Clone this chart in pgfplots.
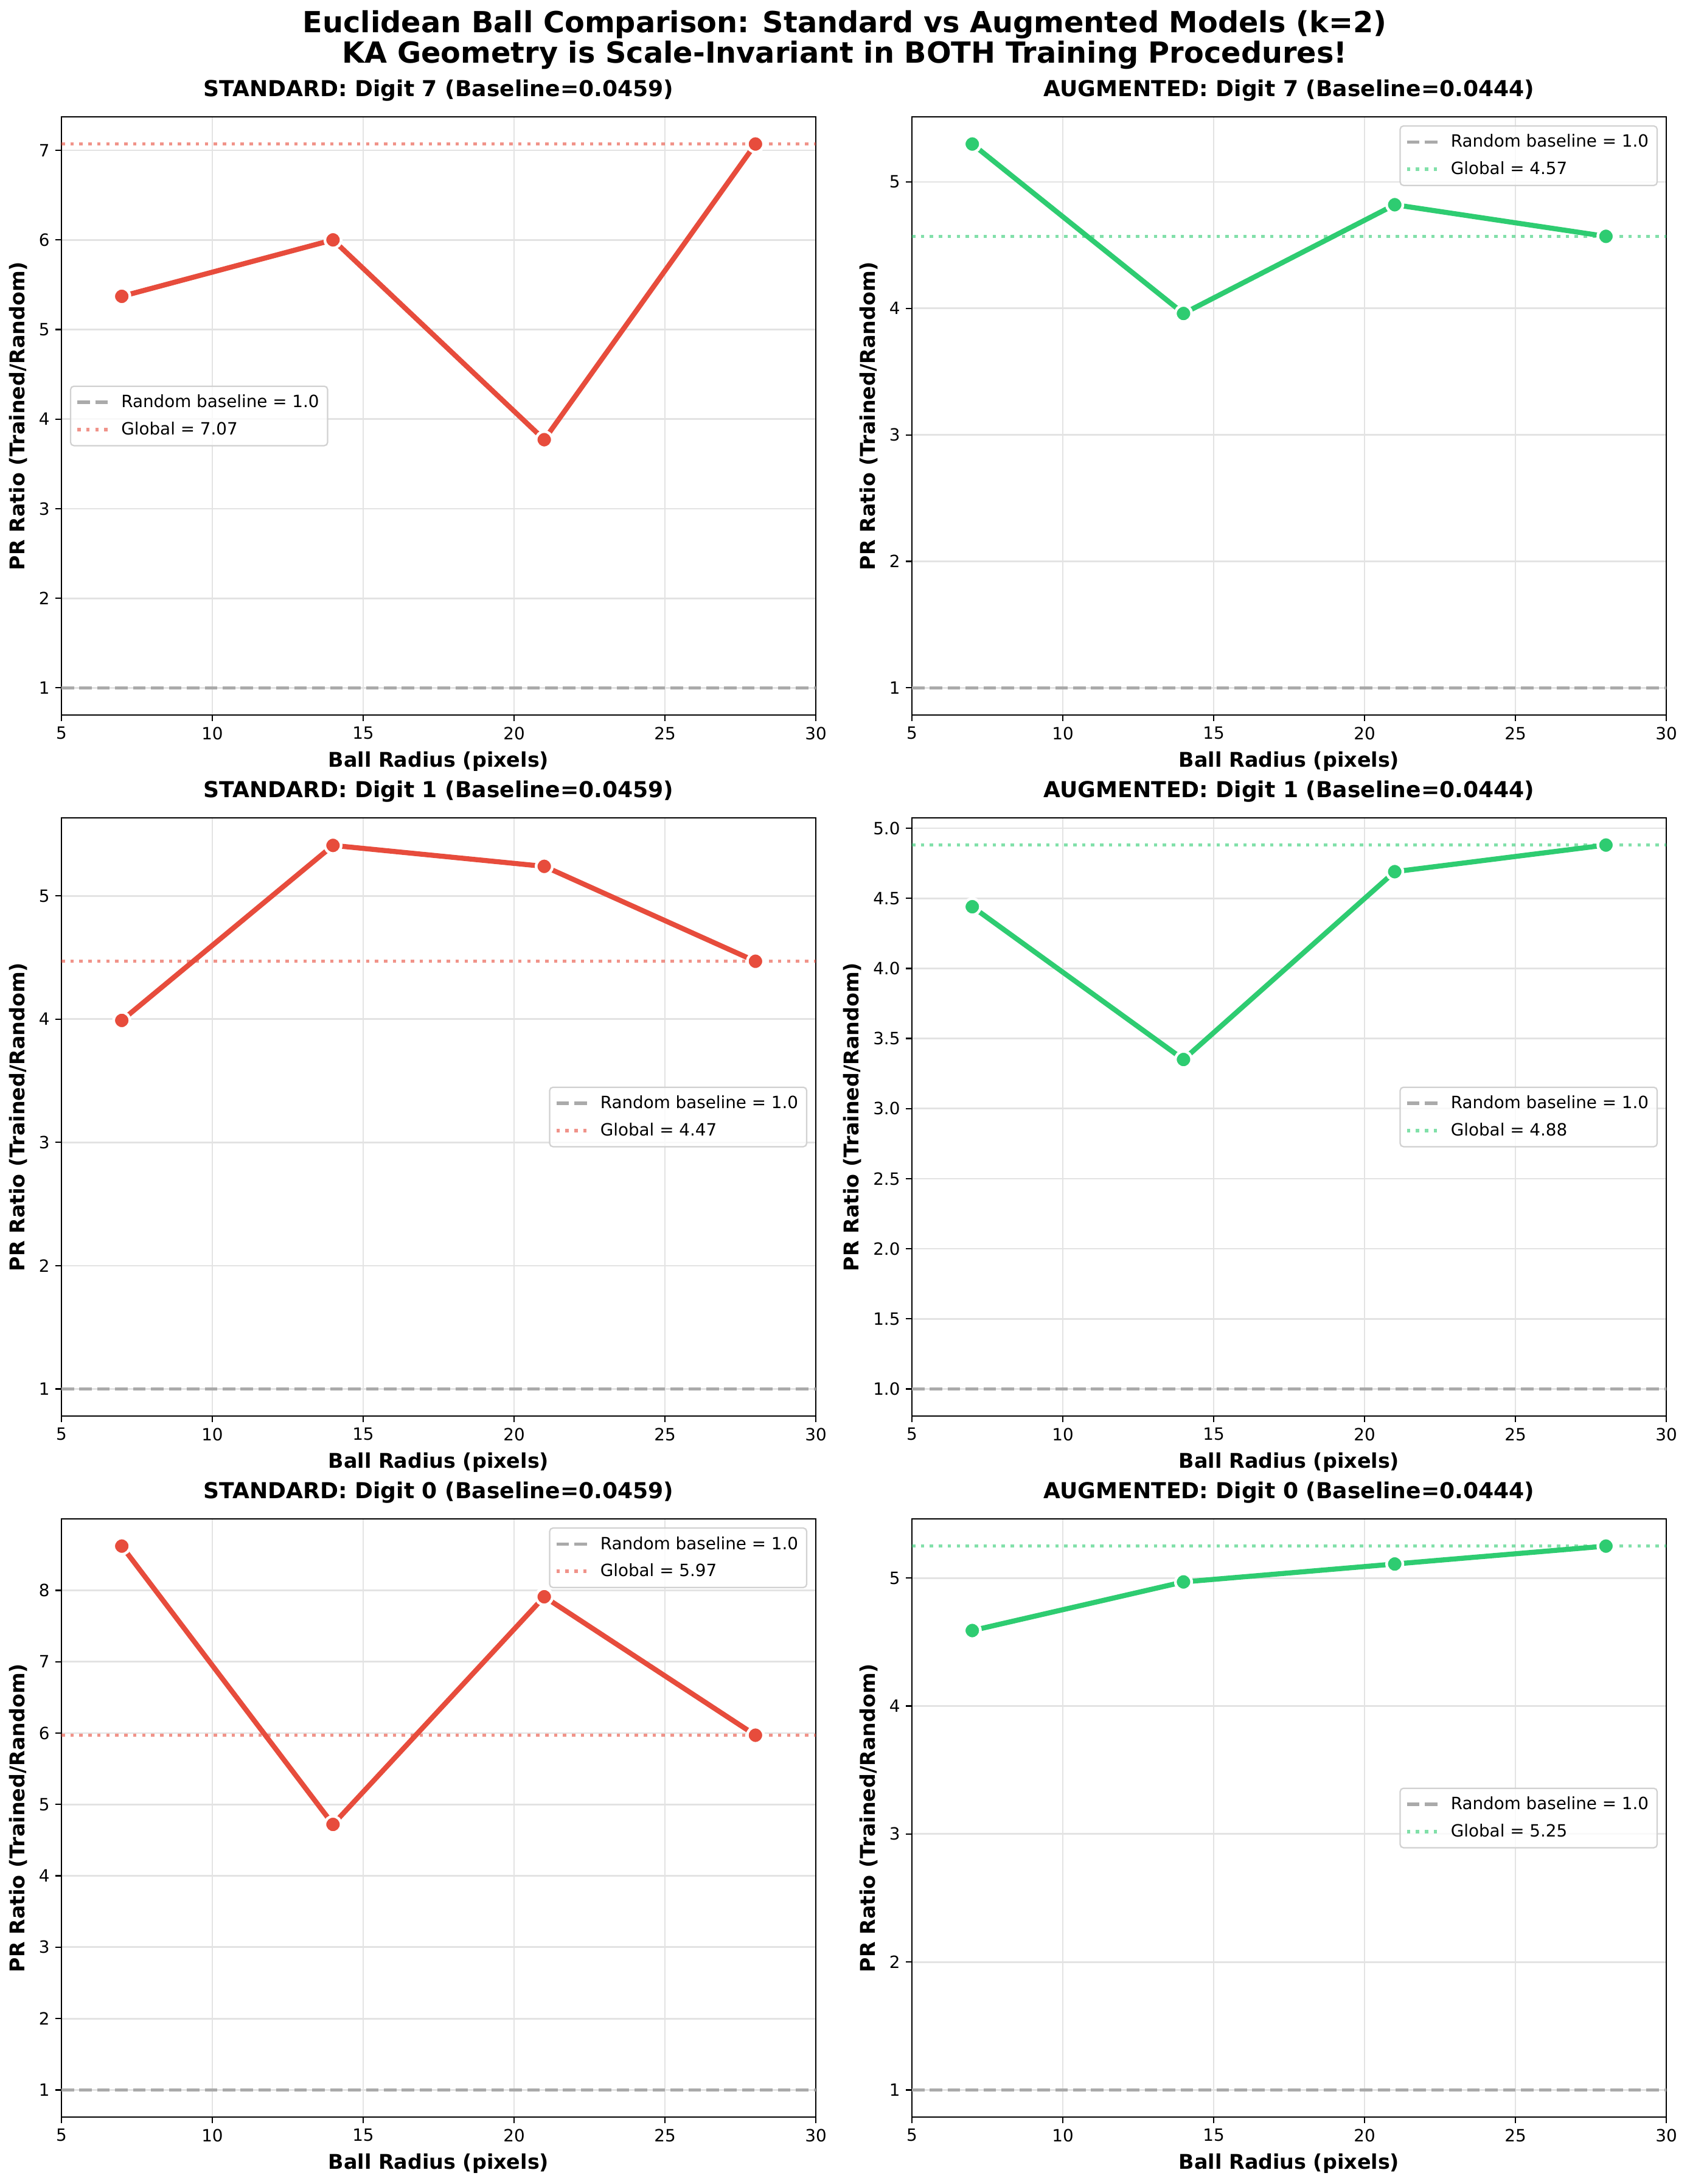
\documentclass[border=0pt]{standalone}
\usepackage{pgfplots}
\pgfplotsset{compat=1.18}
\usepackage{fontspec}
\setmainfont{DejaVu Sans}
\definecolor{stdred}{HTML}{E74C3C}
\definecolor{auggreen}{HTML}{2ECC71}
\definecolor{basegray}{HTML}{AAAAAA}
\definecolor{gridgray}{HTML}{E3E3E3}

\pgfplotsset{
  panel/.style={
    scale only axis, width=446.4pt, height=353.9pt,
    xmin=5, xmax=30, xtick={5,10,15,20,25,30},
    grid=major, major grid style={gridgray, line width=1pt},
    axis line style={line width=0.8pt},
    tick align=outside, major tick length=3.5pt,
    tick style={black, line width=0.8pt},
    tick pos=left,
    tick label style={font=\fontsize{10}{12}\selectfont},
    /pgf/number format/assume math mode=true,
    xlabel={Ball Radius (pixels)},
    ylabel={PR Ratio (Trained/Random)},
    label style={font=\bfseries\fontsize{12}{14}\selectfont},
    xlabel style={at={(axis description cs:0.5,0)}, anchor=base, yshift=-30.6pt},
    title style={font=\bfseries\fontsize{13}{15}\selectfont, anchor=base, yshift=6pt},
    legend cell align=left,
    legend style={font=\fontsize{10}{12}\selectfont, draw=black!18, line width=0.8pt,
      rounded corners=2pt, fill=white, fill opacity=0.8, text opacity=1, draw opacity=1,
      inner xsep=3pt, inner ysep=3pt, row sep=3pt, column sep=3pt,
      nodes={inner sep=2pt}},
    legend image code/.code={\draw[#1] (0pt,0pt) -- (20pt,0pt);},
  },
  baseline/.style={basegray, line width=2pt, dash pattern=on 7.4pt off 3.2pt},
  globalred/.style={stdred, draw opacity=0.6, line width=2pt, dash pattern=on 2pt off 3.3pt},
  globalgreen/.style={auggreen, draw opacity=0.6, line width=2pt, dash pattern=on 2pt off 3.3pt},
  datared/.style={stdred, line width=3pt, line join=round, mark=*, mark size=4.8pt,
    mark options={fill=stdred, draw=white, line width=1.6pt, solid}},
  datagreen/.style={auggreen, line width=3pt, line join=round, mark=*, mark size=4.8pt,
    mark options={fill=auggreen, draw=white, line width=1.6pt, solid}},
  legNE/.style={legend style={at={(1,1)}, anchor=north east, xshift=-5pt, yshift=-5pt}},
  legE/.style={legend style={at={(1,0.5)}, anchor=east, xshift=-5pt}},
  legW/.style={legend style={at={(0,0.5)}, anchor=west, xshift=5pt}},
}

\begin{document}
\begin{tikzpicture}
\path[use as bounding box] (0pt,0pt) rectangle (999.72pt,-1292.04pt);

\node[anchor=base, font=\bfseries\fontsize{17.2}{20}\selectfont] at (499.86pt,-19.1pt)
  {Euclidean Ball Comparison: Standard vs Augmented Models (k=2)};
\node[anchor=base, font=\bfseries\fontsize{17.2}{20}\selectfont] at (499.86pt,-37.3pt)
  {KA Geometry is Scale-Invariant in BOTH Training Procedures!};

% Row 1 left
\begin{axis}[panel, legW, at={(36.36pt,-69.12pt)}, anchor=north west,
  ymin=0.6965, ymax=7.3735, ytick={1,2,3,4,5,6,7},
  title={STANDARD: Digit 7 (Baseline=0.0459)}]
\addplot[baseline] coordinates {(5,1) (30,1)};
\addlegendentry{Random baseline = 1.0}
\addplot[globalred] coordinates {(5,7.07) (30,7.07)};
\addlegendentry{Global = 7.07}
\addplot[datared, forget plot] coordinates {(7,5.37) (14,6.00) (21,3.77) (28,7.07)};
\end{axis}

% Row 1 right
\begin{axis}[panel, legNE, at={(539.64pt,-69.12pt)}, anchor=north west,
  ymin=0.785, ymax=5.515, ytick={1,2,3,4,5},
  title={AUGMENTED: Digit 7 (Baseline=0.0444)}]
\addplot[baseline] coordinates {(5,1) (30,1)};
\addlegendentry{Random baseline = 1.0}
\addplot[globalgreen] coordinates {(5,4.57) (30,4.57)};
\addlegendentry{Global = 4.57}
\addplot[datagreen, forget plot] coordinates {(7,5.30) (14,3.96) (21,4.82) (28,4.57)};
\end{axis}

% Row 2 left
\begin{axis}[panel, legE, at={(36.36pt,-483.84pt)}, anchor=north west,
  ymin=0.7795, ymax=5.6335, ytick={1,2,3,4,5},
  title={STANDARD: Digit 1 (Baseline=0.0459)}]
\addplot[baseline] coordinates {(5,1) (30,1)};
\addlegendentry{Random baseline = 1.0}
\addplot[globalred] coordinates {(5,4.47) (30,4.47)};
\addlegendentry{Global = 4.47}
\addplot[datared, forget plot] coordinates {(7,3.99) (14,5.41) (21,5.24) (28,4.47)};
\end{axis}

% Row 2 right
\begin{axis}[panel, legE, at={(539.64pt,-483.84pt)}, anchor=north west,
  ymin=0.806, ymax=5.074, ytick={1,1.5,2,2.5,3,3.5,4,4.5,5},
  yticklabel style={/pgf/number format/.cd, fixed, fixed zerofill, precision=1},
  title={AUGMENTED: Digit 1 (Baseline=0.0444)}]
\addplot[baseline] coordinates {(5,1) (30,1)};
\addlegendentry{Random baseline = 1.0}
\addplot[globalgreen] coordinates {(5,4.88) (30,4.88)};
\addlegendentry{Global = 4.88}
\addplot[datagreen, forget plot] coordinates {(7,4.44) (14,3.35) (21,4.69) (28,4.88)};
\end{axis}

% Row 3 left
\begin{axis}[panel, legNE, at={(36.36pt,-898.56pt)}, anchor=north west,
  ymin=0.619, ymax=9.001, ytick={1,2,3,4,5,6,7,8},
  title={STANDARD: Digit 0 (Baseline=0.0459)}]
\addplot[baseline] coordinates {(5,1) (30,1)};
\addlegendentry{Random baseline = 1.0}
\addplot[globalred] coordinates {(5,5.97) (30,5.97)};
\addlegendentry{Global = 5.97}
\addplot[datared, forget plot] coordinates {(7,8.62) (14,4.72) (21,7.91) (28,5.97)};
\end{axis}

% Row 3 right
\begin{axis}[panel, legE, at={(539.64pt,-898.56pt)}, anchor=north west,
  ymin=0.7875, ymax=5.4625, ytick={1,2,3,4,5},
  title={AUGMENTED: Digit 0 (Baseline=0.0444)}]
\addplot[baseline] coordinates {(5,1) (30,1)};
\addlegendentry{Random baseline = 1.0}
\addplot[globalgreen] coordinates {(5,5.25) (30,5.25)};
\addlegendentry{Global = 5.25}
\addplot[datagreen, forget plot] coordinates {(7,4.59) (14,4.97) (21,5.11) (28,5.25)};
\end{axis}

\end{tikzpicture}
\end{document}
